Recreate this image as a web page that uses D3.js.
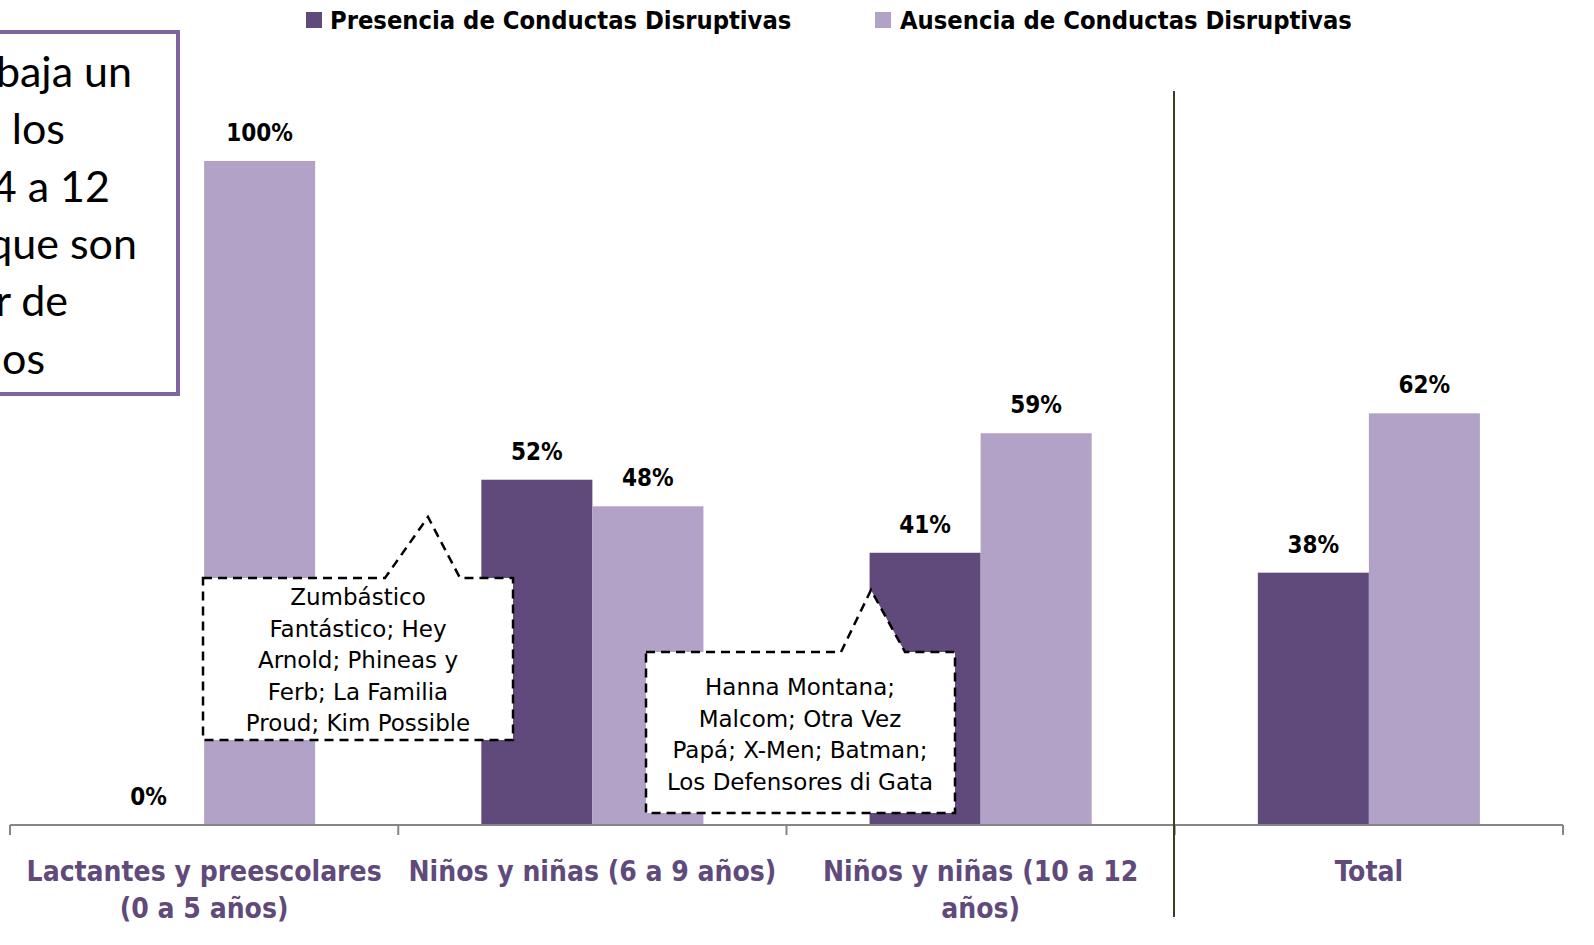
<!DOCTYPE html>
<html><head><meta charset="utf-8">
<script src="https://cdn.jsdelivr.net/npm/d3@7"></script>
<style>html,body{margin:0;padding:0;background:#fff;overflow:hidden}</style>
</head><body>
<svg id="c" width="1594" height="945"></svg>
<script>
const categories = [["Lactantes y preescolares","(0 a 5 años)"],["Niños y niñas (6 a 9 años)"],["Niños y niñas (10 a 12","años)"],["Total"]];
const seriesNames = ["Presencia de Conductas Disruptivas","Ausencia de Conductas Disruptivas"];
const presencia = [0, 52, 41, 38];
const ausencia = [100, 48, 59, 62];
const boxLines = ["baja un","los","4 a 12","que son","r de","nos"];
const callout1 = ["Zumbástico","Fantástico; Hey","Arnold; Phineas y","Ferb; La Familia","Proud; Kim Possible"];
const callout2 = ["Hanna Montana;","Malcom; Otra Vez","Papá; X-Men; Batman;","Los Defensores di Gata"];

const colors = ["#604a7b","#b3a2c7"];
const svg = d3.select("#c");
const baseY = 825, topY = 161;
const x = d3.scaleBand().domain(d3.range(categories.length)).range([10,1563]).paddingInner(0.428).paddingOuter(0.214);
const xs = d3.scaleBand().domain([0,1]).range([0,x.bandwidth()]);
const y = d3.scaleLinear().domain([0,100]).range([baseY, topY]);
const series = [presencia, ausencia];

// bars
series.forEach((vals,si)=>{
  svg.append("g").selectAll("rect").data(vals).join("rect")
    .attr("x",(d,i)=>x(i)+xs(si)).attr("width",xs.bandwidth())
    .attr("y",d=>y(d)).attr("height",d=>baseY-y(d)).attr("fill",colors[si]);
  svg.append("g").selectAll("text").data(vals).join("text")
    .attr("x",(d,i)=>x(i)+xs(si)+xs.bandwidth()/2).attr("y",d=>y(d)-20)
    .attr("text-anchor","middle").attr("font-family","'DejaVu Sans Condensed','DejaVu Sans'")
    .attr("font-weight","bold").attr("font-size",24).attr("fill","#000")
    .text(d=>d+"%");
});

// axis
const step = x.step();
const axisG = svg.append("g");
axisG.append("line").attr("x1",10).attr("x2",1563).attr("y1",baseY).attr("y2",baseY).attr("stroke","#868686").attr("stroke-width",2);
d3.range(categories.length+1).forEach(i=>{
  const tx = 10 + i*step;
  axisG.append("line").attr("x1",tx).attr("x2",tx).attr("y1",baseY).attr("y2",baseY+10).attr("stroke","#868686").attr("stroke-width",2);
});
categories.forEach((lines,i)=>{
  const t = axisG.append("text").attr("text-anchor","middle")
    .attr("font-family","'DejaVu Sans Condensed','DejaVu Sans'").attr("font-size",28).attr("font-weight","bold")
    .attr("fill","#604a7b");
  lines.forEach((l,j)=>t.append("tspan").attr("x",x(i)+x.bandwidth()/2).attr("y",881+j*37).text(l));
});

// separator
svg.append("line").attr("x1",1174).attr("x2",1174).attr("y1",91).attr("y2",917).attr("stroke","#3f3a26").attr("stroke-width",2);

// legend
const leg = [[306,330],[875,900]];
seriesNames.forEach((n,i)=>{
  svg.append("rect").attr("x",leg[i][0]).attr("y",12).attr("width",16).attr("height",16).attr("fill",colors[i]);
  svg.append("text").attr("x",leg[i][1]).attr("y",29).attr("font-family","'DejaVu Sans Condensed','DejaVu Sans'")
    .attr("font-weight","bold").attr("font-size",25.3).attr("fill","#000").text(n);
});

// top-left text box
svg.append("rect").attr("x",-10).attr("y",32).attr("width",188).attr("height",362).attr("fill","#fff").attr("stroke","#8064a2").attr("stroke-width",4);
const bxEnd = [132,65,110,137,68,45];
boxLines.forEach((l,i)=>{
  svg.append("text").attr("x",bxEnd[i]).attr("y",87+i*57.3).attr("text-anchor","end")
    .attr("font-family","Lato,'Open Sans','DejaVu Sans'")
    .attr("font-size",43).attr("fill","#000").text(l);
});

// callouts
function callout(bx0,by0,bx1,by1,p0,px,py,p1,lines,cx,ly0){
  const path = `M${bx0},${by0} L${p0},${by0} L${px},${py} L${p1},${by0} L${bx1},${by0} L${bx1},${by1} L${bx0},${by1} Z`;
  svg.append("path").attr("d",path).attr("fill","#fff").attr("stroke","#000").attr("stroke-width",2.5).attr("stroke-dasharray","9,6");
  lines.forEach((l,i)=>svg.append("text").attr("x",cx).attr("y",ly0+i*31.5).attr("text-anchor","middle")
    .attr("font-family","'DejaVu Sans','Verdana'").attr("font-size",23).attr("fill","#000").text(l));
}
callout(203,578,513,740,385,428,517,460,callout1,358,605);
callout(646,652,955,813,841,871,590,905,callout2,800,695);
</script>
</body></html>
